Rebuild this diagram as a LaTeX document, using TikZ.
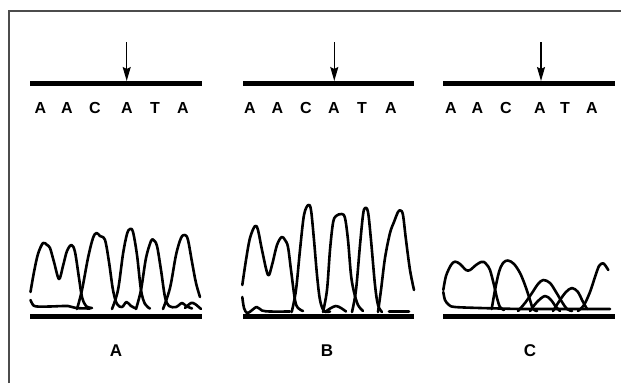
\documentclass[tikz,border=0pt]{standalone}
\usepackage{fontspec}
\setmainfont{Liberation Sans}
\usetikzlibrary{arrows.meta}
\begin{document}
\begin{tikzpicture}[x=1pt,y=-1pt,
  frameline/.style={draw=black!70,line width=1.1pt},
  seqbar/.style={line width=5pt},
  marker/.style={line width=1.5pt,-{Stealth[length=14pt,width=8pt,inset=2pt]}},
  base/.style={font=\fontsize{16}{17}\selectfont\bfseries,inner sep=0pt,anchor=center},
  panel/.style={font=\fontsize{17}{18}\selectfont\bfseries,inner sep=0pt},
  trace/.style={line width=2.6pt,line join=round,line cap=round}]
\useasboundingbox (0,0) rectangle (621,383);
% frame
\draw[frameline] (9,383) -- (9,11) -- (621,11);

% ---------- top sequence bars ----------
\foreach \p/\s/\e/\ax in {A/30/202/126.7, B/243/414/334.3, C/443/615/541}{
  \coordinate (bs\p) at (\s,83);
  \coordinate (be\p) at (\e,83);
  \draw[seqbar] (bs\p) -- (be\p);
  \coordinate (at\p) at (\ax,42);
  \coordinate (ah\p) at (\ax,81);
  \draw[marker] (at\p) -- (ah\p);
}
% letters
\foreach \p/\xa/\xb/\xc/\xd/\xe/\xf in {A/40.5/67/95/127/155/183, B/250/277.5/306/334/362/391, C/451/477.5/506/540/565/592}{
  \node[base] (\p1) at (\xa,108) {A};
  \node[base] (\p2) at (\xb,108) {A};
  \node[base] (\p3) at (\xc,108) {C};
  \node[base] (\p4) at (\xd,108) {A};
  \node[base] (\p5) at (\xe,108) {T};
  \node[base] (\p6) at (\xf,108) {A};
}

% ---------- baseline bars ----------
\foreach \p/\s/\e in {A/30/202, B/243/414, C/443/615}{
  \coordinate (ls\p) at (\s,316);
  \coordinate (le\p) at (\e,316);
  \draw[seqbar] (ls\p) -- (le\p);
}

% ---------- chromatogram A ----------
\draw[trace] plot[smooth,tension=0.55] coordinates {(30.5,292) (34,272) (38,254) (43,243) (47,245) (50,248) (54,262) (59,279) (63,266) (67,251) (71.5,245) (75,252) (79,278) (82,297) (86,306) (92,308)};
\draw[trace] plot[smooth,tension=0.55] coordinates {(30.5,300) (33,305) (37,306.5) (50,306.5) (68,306) (76,308) (90,308.5)};
\draw[trace] plot[smooth,tension=0.55] coordinates {(77,309) (82,290) (88,258) (93,238) (96.5,233) (100,236) (105,240) (109,262) (113,290) (117,304) (122,307) (126.5,302) (131,306) (136,308.5)};
\draw[trace] plot[smooth,tension=0.55] coordinates {(112,309) (118,290) (123,254) (127,234) (130,229) (133,232) (137,255) (141,290) (145,304) (150,308.5)};
\draw[trace] plot[smooth,tension=0.55] coordinates {(136,309) (141,290) (146,258) (151,241) (153.5,240) (157,246) (161,270) (165,297) (169,306) (176,307) (182,303) (186,306) (192,308.5)};
\draw[trace] plot[smooth,tension=0.55] coordinates {(163,309) (170,288) (176,255) (181,238) (185,235) (188,240) (192,262) (196,283) (200,297)};
\draw[trace] plot[smooth,tension=0.55] coordinates {(185,308) (191,303) (195,304) (201,309)};

% ---------- chromatogram B ----------
\draw[trace] plot[smooth,tension=0.55] coordinates {(242.3,285) (246,260) (250,238) (255,226) (258,230) (262,250) (268,275) (272,265) (277,245) (281.7,237) (285,240) (288,247) (291,270) (295,300) (298,308) (303,311)};
\draw[trace] plot[smooth,tension=0.55] coordinates {(242.3,297) (244,308) (247,313) (251,311) (256.7,307) (262,310.5) (270,311.5) (290,311.5)};
\draw[trace] plot[smooth,tension=0.55] coordinates {(291.7,312) (296,290) (300,250) (304,215) (308.3,205) (311,210) (314,240) (317,275) (320,300) (324,311) (330,311.5)};
\draw[trace] plot[smooth,tension=0.55] coordinates {(325,312) (331,308) (336,306) (341,308) (346,311.5)};
\draw[trace] plot[smooth,tension=0.55] coordinates {(323,312) (327,290) (330,250) (333,223) (336,216) (341.7,214) (345,218) (348,240) (351,275) (354,292) (358,305) (363,311)};
\draw[trace] plot[smooth,tension=0.55] coordinates {(352,312) (356,290) (360,245) (363,215) (365,208) (368,212) (371,240) (375,285) (378,305) (382,312)};
\draw[trace] plot[smooth,tension=0.55] coordinates {(378,312) (381,290) (385,258) (390,233) (394,222) (398,212) (400.5,210.5) (403,215) (406,240) (410,270) (414,290)};
\draw[trace] (389,311.5) -- (409,311.5);

% ---------- chromatogram C ----------
\draw[trace] plot[smooth,tension=0.55] coordinates {(443.3,290) (446,276) (451,265) (455,261.7) (460,264) (466,270) (470,270) (476,265) (481,262) (484,262) (487,265) (490,270) (494,285) (497,298) (500,307) (504,310)};
\draw[trace] plot[smooth,tension=0.55] coordinates {(443.3,292) (445,300) (449,305) (455,307) (480,308) (500,308.5) (520,309) (550,309) (580,309) (610,309)};
\draw[trace] plot[smooth,tension=0.55] coordinates {(491.7,309) (495,290) (499,272) (503,263) (508,260.5) (514,264) (520,273) (525,285) (530,300) (533,309) (537,311)};
\draw[trace] plot[smooth,tension=0.55] coordinates {(518,311) (525,303) (532,293) (538,284) (543.3,280) (550,283) (556,292) (562,302) (567,309) (572,311)};
\draw[trace] plot[smooth,tension=0.55] coordinates {(530,311) (537,302) (545,296) (551,300) (556,307) (560,311)};
\draw[trace] plot[smooth,tension=0.55] coordinates {(553,311) (560,300) (566,292) (572,288) (578,292) (582,300) (587,309)};
\draw[trace] plot[smooth,tension=0.55] coordinates {(578,311) (584,305) (590,292) (595,277) (599,266) (602.7,263.3) (605,265) (608.3,270)};

% ---------- panel labels ----------
\node[panel] (lA) at (116,351) {A};
\node[panel] (lB) at (327,351) {B};
\node[panel] (lC) at (530,351) {C};
\end{tikzpicture}
\end{document}
